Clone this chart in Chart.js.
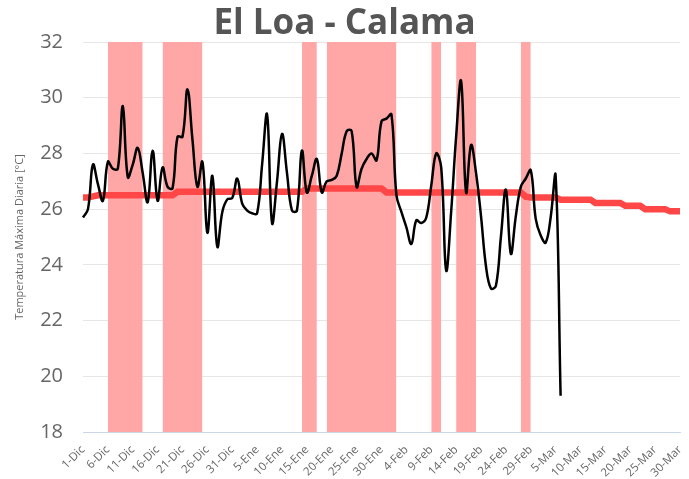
<!DOCTYPE html>
<html lang="es">
<head>
<meta charset="utf-8">
<title>El Loa - Calama</title>
<script src="https://cdn.jsdelivr.net/npm/chart.js@4.4.1/dist/chart.umd.min.js"></script>
<style>
  html, body { margin: 0; padding: 0; background: #fff; }
</style>
</head>
<body>
<canvas id="tempChart" width="689" height="479"></canvas>
<script>
// meses del periodo (diciembre a marzo, año bisiesto)
const months = ['Dic', 'Ene', 'Feb', 'Mar'];
const monthDays = [31, 31, 29, 30];

// temperatura maxima diaria observada (1-Dic en adelante)
const tempMax = [
    25.7, 26.0, 27.6, 26.9, 26.3, 27.7, 27.45, 27.45, 29.7, 27.15,
    27.6, 28.2, 27.3, 26.25, 28.1, 26.3, 27.5, 26.8, 26.75, 28.6,
    28.6, 30.3, 28.5, 26.8, 27.7, 25.15, 27.2, 24.65, 25.9, 26.35,
    26.4, 27.1, 26.2, 25.95, 25.85, 25.85, 27.6, 29.4, 25.5, 27.0,
    28.7, 27.3, 25.95, 25.95, 28.1, 26.6, 27.2, 27.8, 26.6, 27.0,
    27.05, 27.2, 28.0, 28.8, 28.8, 26.8, 27.45, 27.8, 28.0, 27.75,
    29.15, 29.25, 29.4, 26.5, 25.9, 25.35, 24.75, 25.6, 25.5, 25.7,
    26.85, 28.0, 27.5, 23.8, 25.9, 28.6, 30.6, 26.6, 28.3, 27.3,
    25.75, 23.95, 23.15, 23.25, 25.0, 26.7, 24.4, 25.75, 26.8, 27.1,
    27.4, 25.65, 25.05, 24.8, 25.7, 27.2, 19.3
];

// climatologia (promedio historico)
const tempClim = [
    26.42, 26.42, 26.46, 26.5, 26.5, 26.5, 26.5, 26.5, 26.5, 26.5,
    26.5, 26.5, 26.5, 26.5, 26.5, 26.5, 26.5, 26.5, 26.5, 26.62,
    26.62, 26.62, 26.62, 26.62, 26.62, 26.62, 26.62, 26.62, 26.62, 26.62,
    26.62, 26.62, 26.62, 26.62, 26.62, 26.62, 26.62, 26.62, 26.62, 26.62,
    26.62, 26.62, 26.62, 26.62, 26.62, 26.74, 26.74, 26.74, 26.74, 26.74,
    26.74, 26.74, 26.74, 26.74, 26.74, 26.74, 26.74, 26.74, 26.74, 26.74,
    26.74, 26.6, 26.6, 26.6, 26.6, 26.6, 26.6, 26.6, 26.6, 26.6,
    26.6, 26.6, 26.6, 26.6, 26.6, 26.6, 26.6, 26.6, 26.6, 26.6,
    26.6, 26.6, 26.6, 26.6, 26.6, 26.6, 26.6, 26.6, 26.6, 26.45,
    26.42, 26.42, 26.42, 26.42, 26.42, 26.42, 26.34, 26.34, 26.34, 26.34,
    26.34, 26.34, 26.34, 26.22, 26.22, 26.22, 26.22, 26.22, 26.22, 26.12,
    26.12, 26.12, 26.12, 26.0, 26.0, 26.0, 26.0, 26.0, 25.92, 25.92,
    25.92
];

// periodos sombreados (indice de dia inicial y final)
const bandStart = [5, 16, 44, 49, 70, 75, 88];
const bandEnd = [12, 24, 47, 63, 72, 79, 90];

const yTicks = [18, 20, 22, 24, 26, 28, 30, 32];

function buildLabels() {
    const labels = [];
    months.forEach((m, i) => {
        for (let d = 1; d <= monthDays[i]; d++) {
            labels.push(d + '-' + m);
        }
    });
    return labels;
}

function buildBands(count) {
    const data = Array(count).fill(null);
    bandStart.forEach((start, i) => {
        for (let d = start; d <= bandEnd[i]; d++) {
            data[d] = yTicks[yTicks.length - 1];
        }
    });
    return data;
}

function init() {
    const labels = buildLabels();
    const ctx = document.getElementById('tempChart');

    new Chart(ctx, {
        type: 'line',
        data: {
            labels: labels,
            datasets: [
                {
                    label: 'Temperatura Máxima',
                    data: tempMax,
                    borderColor: '#000000',
                    borderWidth: 2.5,
                    pointRadius: 0,
                    tension: 0.4,
                    fill: false,
                    order: 1
                },
                {
                    label: 'Climatología',
                    data: tempClim,
                    borderColor: '#ff4747',
                    borderWidth: 6.5,
                    pointRadius: 0,
                    tension: 0,
                    fill: false,
                    order: 2
                },
                {
                    label: 'Periodos',
                    data: buildBands(labels.length),
                    borderWidth: 0,
                    borderColor: 'rgba(0,0,0,0)',
                    backgroundColor: '#ffa6a6',
                    pointRadius: 0,
                    tension: 0,
                    spanGaps: false,
                    fill: 'start',
                    order: 3
                }
            ]
        },
        options: {
            responsive: false,
            animation: false,
            devicePixelRatio: 1,
            layout: { padding: 0 },
            plugins: {
                legend: { display: false },
                tooltip: { enabled: false },
                title: {
                    display: true,
                    text: 'El Loa - Calama',
                    color: '#555555',
                    font: { family: 'Open Sans', size: 35, weight: 'bold', lineHeight: 1.0 },
                    padding: { top: 7, bottom: 0 }
                }
            },
            scales: {
                x: {
                    z: 2,
                    grid: { display: false },
                    border: { display: true, color: '#ccd6eb', width: 1 },
                    ticks: {
                        autoSkip: false,
                        minRotation: 45,
                        maxRotation: 45,
                        padding: 3,
                        color: '#666666',
                        font: { family: 'Open Sans', size: 11.5 },
                        callback: function (value, index) {
                            return index % 5 === 0 ? this.getLabelForValue(value) : '';
                        }
                    },
                    afterFit: function (scale) {
                        scale.height = 47;
                        scale.paddingLeft = 0;
                        scale.paddingRight = 9;
                    }
                },
                y: {
                    z: 1,
                    min: yTicks[0],
                    max: yTicks[yTicks.length - 1],
                    border: { display: false },
                    grid: { color: '#e6e6e6', lineWidth: 1, drawTicks: false },
                    ticks: {
                        stepSize: 2,
                        padding: 20,
                        color: '#666666',
                        font: { family: 'Open Sans', size: 20 }
                    },
                    title: {
                        display: true,
                        text: 'Temperatura Máxima Diaria [°C]',
                        color: '#666666',
                        font: { family: 'Open Sans', size: 11 },
                        padding: { top: 13, bottom: 0 }
                    },
                    afterFit: function (scale) { scale.width = 83; }
                }
            }
        }
    });
}

document.addEventListener('DOMContentLoaded', init);
</script>
</body>
</html>
